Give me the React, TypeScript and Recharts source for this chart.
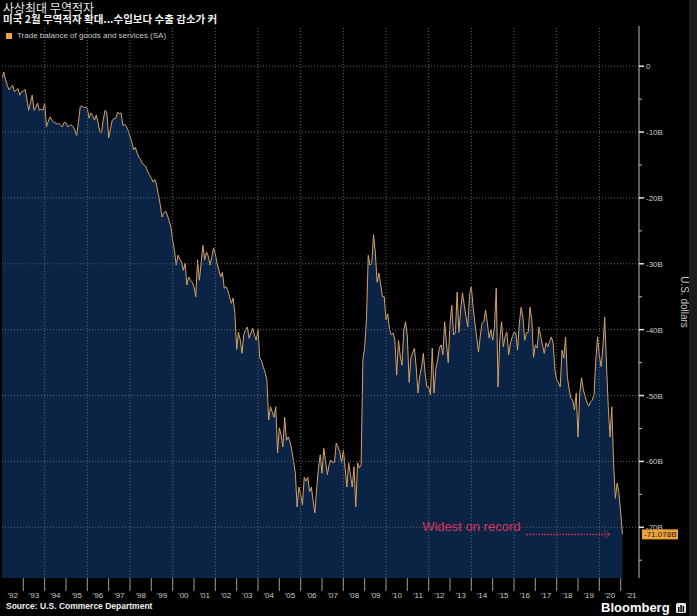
import { AreaChart, Area, XAxis, YAxis, ReferenceLine } from "recharts";

// US trade balance of goods and services, monthly, billions of dollars (Jan 1992 - Feb 2021)
const y1992 = [-1.8, -0.9, -2.0, -2.9, -3.6, -3.2, -2.9, -3.9, -3.6, -3.4, -4.4, -3.9];
const y1993 = [-3.8, -3.5, -5.0, -6.7, -5.5, -4.4, -6.7, -6.2, -5.6, -6.7, -6.5, -6.7];
const y1994 = [-5.6, -9.2, -8.4, -7.7, -8.2, -8.5, -8.6, -8.8, -8.7, -9.0, -9.2, -8.5];
const y1995 = [-8.6, -9.2, -9.0, -8.9, -9.2, -9.7, -10.5, -8.5, -6.2, -6.0, -6.3, -6.2];
const y1996 = [-6.4, -7.9, -7.1, -7.5, -8.2, -7.4, -8.5, -9.9, -10.1, -8.0, -6.7, -7.1];
const y1997 = [-10.9, -9.5, -8.2, -8.0, -7.9, -7.0, -7.2, -7.1, -9.0, -8.8, -9.2, -9.8];
const y1998 = [-10.7, -11.5, -12.7, -12.3, -13.2, -13.8, -14.2, -14.8, -15.0, -15.3, -16.0, -16.5];
const y1999 = [-17.0, -17.6, -17.2, -18.1, -19.5, -21.0, -22.9, -22.3, -22.0, -22.6, -23.5, -24.4];
const y2000 = [-26.4, -28.0, -30.2, -28.7, -29.3, -29.7, -31.0, -29.9, -33.2, -32.0, -32.5, -32.8];
const y2001 = [-33.5, -35.0, -29.4, -32.5, -30.0, -27.2, -29.4, -28.2, -28.8, -30.2, -29.0, -27.6];
const y2002 = [-28.5, -30.0, -31.0, -32.0, -31.3, -33.7, -33.5, -34.0, -35.0, -36.0, -35.2, -37.5];
const y2003 = [-43.0, -40.4, -41.5, -43.6, -40.7, -40.0, -39.6, -41.3, -40.5, -39.8, -40.8, -41.6];
const y2004 = [-40.0, -44.3, -44.8, -45.7, -46.5, -47.6, -53.7, -51.7, -52.5, -53.3, -51.7, -58.7];
const y2005 = [-54.9, -56.0, -57.8, -53.3, -56.8, -56.3, -57.0, -58.3, -60.0, -61.8, -66.9, -63.9];
const y2006 = [-65.0, -66.6, -62.4, -63.0, -62.4, -64.6, -63.9, -66.0, -67.8, -64.0, -61.0, -59.0];
const y2007 = [-61.8, -58.0, -60.0, -62.0, -60.5, -59.8, -60.2, -60.1, -57.2, -57.8, -58.5, -60.2];
const y2008 = [-58.3, -61.0, -63.9, -60.2, -62.0, -63.9, -60.8, -66.9, -60.2, -61.0, -60.5, -44.6];
const y2009 = [-42.6, -38.5, -28.7, -30.2, -29.9, -25.6, -28.4, -32.8, -31.4, -33.2, -35.0, -35.0];
const y2010 = [-38.5, -37.6, -40.0, -40.8, -40.5, -41.6, -46.9, -41.6, -44.0, -45.4, -40.0, -38.8];
const y2011 = [-41.1, -48.0, -44.3, -43.5, -42.8, -45.8, -49.6, -47.0, -45.7, -43.6, -46.6, -48.7];
const y2012 = [-48.7, -49.9, -42.8, -49.6, -46.0, -44.6, -42.8, -42.3, -43.8, -38.8, -42.0, -45.0];
const y2013 = [-39.0, -36.3, -40.8, -40.5, -34.3, -40.4, -37.0, -34.4, -36.3, -38.0, -39.6, -34.7];
const y2014 = [-33.5, -36.6, -39.0, -41.1, -43.4, -41.0, -39.0, -38.8, -37.0, -39.0, -41.3, -40.0];
const y2015 = [-41.6, -39.6, -33.7, -48.7, -41.5, -38.8, -42.6, -41.0, -40.4, -43.8, -42.0, -41.1];
const y2016 = [-40.4, -40.5, -43.1, -39.0, -36.6, -38.1, -41.6, -40.5, -40.4, -36.6, -38.5, -44.2];
const y2017 = [-42.3, -42.8, -39.6, -41.0, -42.3, -43.6, -42.0, -42.6, -41.8, -41.1, -42.0, -46.1];
const y2018 = [-47.6, -48.0, -48.7, -43.1, -44.3, -41.1, -47.2, -49.0, -50.4, -50.7, -52.2, -49.6];
const y2019 = [-56.3, -49.6, -47.3, -49.1, -50.2, -51.0, -51.6, -51.0, -50.7, -49.9, -44.6, -41.1];
const y2020 = [-44.0, -45.6, -42.6, -38.1, -45.2, -51.7, -56.3, -51.7, -60.2, -65.6, -63.3, -64.8];
const y2021 = [-67.8, -71.078];

const yearLabels = [
  "'92", "'93", "'94", "'95", "'96", "'97", "'98", "'99", "'00", "'01",
  "'02", "'03", "'04", "'05", "'06", "'07", "'08", "'09", "'10", "'11",
  "'12", "'13", "'14", "'15", "'16", "'17", "'18", "'19", "'20", "'21",
];

const majorTicks = [0, -10, -20, -30, -40, -50, -60, -70];
const minorTicks = [-5, -15, -25, -35, -45, -55, -65, -75];

const monthly = [
  ...y1992, ...y1993, ...y1994, ...y1995, ...y1996, ...y1997, ...y1998, ...y1999,
  ...y2000, ...y2001, ...y2002, ...y2003, ...y2004, ...y2005, ...y2006, ...y2007,
  ...y2008, ...y2009, ...y2010, ...y2011, ...y2012, ...y2013, ...y2014, ...y2015,
  ...y2016, ...y2017, ...y2018, ...y2019, ...y2020, ...y2021,
];
const data = monthly.map((value, i) => ({ month: i, value }));
const latest = monthly[monthly.length - 1];
const lastMonth = monthly.length - 1;

const Y_MIN = -77.7;
const Y_MAX = 6.1;
const X_MAX = 358.3;

// year separators at Jan of each year, labels centred mid-year
const yearStarts = yearLabels.slice(1).map((_, k) => (k + 1) * 12);
const yearMids = yearLabels.map((_, k) => k * 12 + 6);
const xTicks = [...yearMids, ...yearStarts].sort((a, b) => a - b);
const gridYears = yearStarts.filter((m) => (m / 12) % 2 === 0);

const LINE = "#d6a265";
const FILL = "#0b2446";
const GRID = "#5b6470";
const AXIS_TEXT = "#c9c9c9";
const PINK = "#d8345e";
const FONT = "'Liberation Sans', Arial, sans-serif";

function YearTick(props: any) {
  const { x, y, payload } = props;
  const v = payload.value;
  if (v % 12 === 0) {
    return <line x1={x} x2={x} y1={y} y2={y + 13} stroke="#9a9a9a" strokeWidth={1} />;
  }
  return (
    <text x={x} y={y + 20} textAnchor="middle" fill={AXIS_TEXT} fontSize={8} fontFamily={FONT}>
      {yearLabels[(v - 6) / 12]}
    </text>
  );
}

function ValueTick(props: any) {
  const { x, y, payload } = props;
  const v = payload.value;
  if (v === latest) {
    return (
      <g>
        <rect x={x + 3} y={y - 5} width={36} height={10} fill="#f0a23a" />
        <text x={x + 5} y={y + 3} fill="#1a1a1a" fontSize={8} fontFamily={FONT}>
          {`${latest.toFixed(3)}B`}
        </text>
      </g>
    );
  }
  if (v % 10 !== 0) {
    return <line x1={x} x2={x + 3} y1={y} y2={y} stroke="#bdbdbd" />;
  }
  return (
    <g>
      <line x1={x} x2={x + 5} y1={y} y2={y} stroke="#e0e0e0" strokeWidth={1.5} />
      <text x={x + 7} y={y + 3} fill={AXIS_TEXT} fontSize={8} fontFamily={FONT}>
        {v === 0 ? "0" : `${v}B`}
      </text>
    </g>
  );
}

function UnitLabel(props: any) {
  const { viewBox } = props;
  const cx = viewBox.x + 45;
  const cy = viewBox.y + viewBox.height / 2;
  return (
    <text
      x={cx}
      y={cy}
      transform={`rotate(90, ${cx}, ${cy})`}
      textAnchor="middle"
      dominantBaseline="middle"
      fill={AXIS_TEXT}
      fontSize={10}
      fontFamily={FONT}
    >
      U.S. dollars
    </text>
  );
}

function RecordArrow(props: any) {
  const { x1, y1, x2, y2 } = props;
  return (
    <g>
      <line x1={x1} y1={y1} x2={x2} y2={y2} stroke={PINK} strokeWidth={1.5} strokeDasharray="1.5 1.5" />
      <polyline
        points={`${x2 - 6},${y2 - 4} ${x2},${y2} ${x2 - 6},${y2 + 4}`}
        fill="none"
        stroke={PINK}
        strokeWidth={1}
        strokeDasharray="1.5 1"
      />
      <text x={x1 - 6} y={y1 - 3} textAnchor="end" fill={PINK} fontSize={13} fontFamily={FONT}>
        Widest on record
      </text>
    </g>
  );
}

export default function App() {
  return (
    <div style={{ position: "relative", width: 697, height: 616, background: "#000", overflow: "hidden" }}>
      <style>{"body{margin:0;background:#000}"}</style>
      <AreaChart width={697} height={616} data={data} margin={{ top: 26, right: 0, bottom: 0, left: 2 }}>
        <XAxis
          dataKey="month"
          type="number"
          domain={[0, X_MAX]}
          ticks={xTicks}
          interval={0}
          tick={<YearTick />}
          tickLine={false}
          axisLine={false}
          tickSize={0}
          tickMargin={0}
          height={38}
          allowDataOverflow
        />
        <YAxis
          orientation="right"
          type="number"
          domain={[Y_MIN, Y_MAX]}
          ticks={[...minorTicks, ...majorTicks, latest]}
          interval={0}
          tick={<ValueTick />}
          tickLine={false}
          tickSize={0}
          tickMargin={0}
          axisLine={{ stroke: "#bdbdbd" }}
          width={58}
          allowDataOverflow
          label={<UnitLabel />}
        />
        <Area
          type="linear"
          dataKey="value"
          stroke={LINE}
          strokeWidth={1}
          fill={FILL}
          fillOpacity={1}
          baseValue={Y_MIN}
          dot={false}
          activeDot={false}
          isAnimationActive={false}
        />
        {majorTicks.map((v) => (
          <ReferenceLine key={`h${v}`} y={v} stroke={GRID} strokeDasharray="1 2" />
        ))}
        {gridYears.map((m) => (
          <ReferenceLine key={`v${m}`} x={m} stroke={GRID} strokeDasharray="1 2" />
        ))}
        <ReferenceLine
          segment={[
            { x: 295, y: latest },
            { x: lastMonth - 7, y: latest },
          ]}
          shape={<RecordArrow />}
        />
      </AreaChart>

      <div style={{ position: "absolute", left: 3, top: 2, color: "#e8e8e8", fontFamily: "'Noto Sans CJK KR', sans-serif", fontSize: 12, lineHeight: "11px" }}>
        사상최대 무역적자
      </div>
      <div style={{ position: "absolute", left: 3, top: 14, color: "#f2f2f2", fontFamily: "'Noto Sans CJK KR', sans-serif", fontSize: 10.5, fontWeight: 700, lineHeight: "10px" }}>
        미국 2월 무역적자 확대...수입보다 수출 감소가 커
      </div>
      <div style={{ position: "absolute", left: 6, top: 31, display: "flex", alignItems: "center", fontFamily: FONT, fontSize: 8, color: AXIS_TEXT }}>
        <span style={{ display: "inline-block", width: 6, height: 6, background: "#f0a23a", marginRight: 5 }} />
        Trade balance of goods and services (SA)
      </div>

      <div style={{ position: "absolute", left: 6, top: 601, color: "#f0f0f0", fontFamily: FONT, fontSize: 8.5, fontWeight: 700, lineHeight: "10px" }}>
        Source: U.S. Commerce Department
      </div>
      <div style={{ position: "absolute", left: 601, top: 601, display: "flex", alignItems: "center", color: "#fff", fontFamily: FONT, fontSize: 13, fontWeight: 700, lineHeight: "13px" }}>
        Bloomberg
        <svg width={10} height={10} style={{ marginLeft: 6 }}>
          <rect x={0} y={0} width={10} height={10} rx={1.5} fill="#e8e8e8" />
          <rect x={2} y={4} width={1.5} height={5} fill="#000" />
          <rect x={4.3} y={2} width={1.5} height={7} fill="#000" />
          <rect x={6.6} y={3} width={1.5} height={6} fill="#000" />
        </svg>
      </div>
      <div style={{ position: "absolute", left: 689, top: 0, width: 8, height: 616, background: "#1e1e1e" }} />
    </div>
  );
}
